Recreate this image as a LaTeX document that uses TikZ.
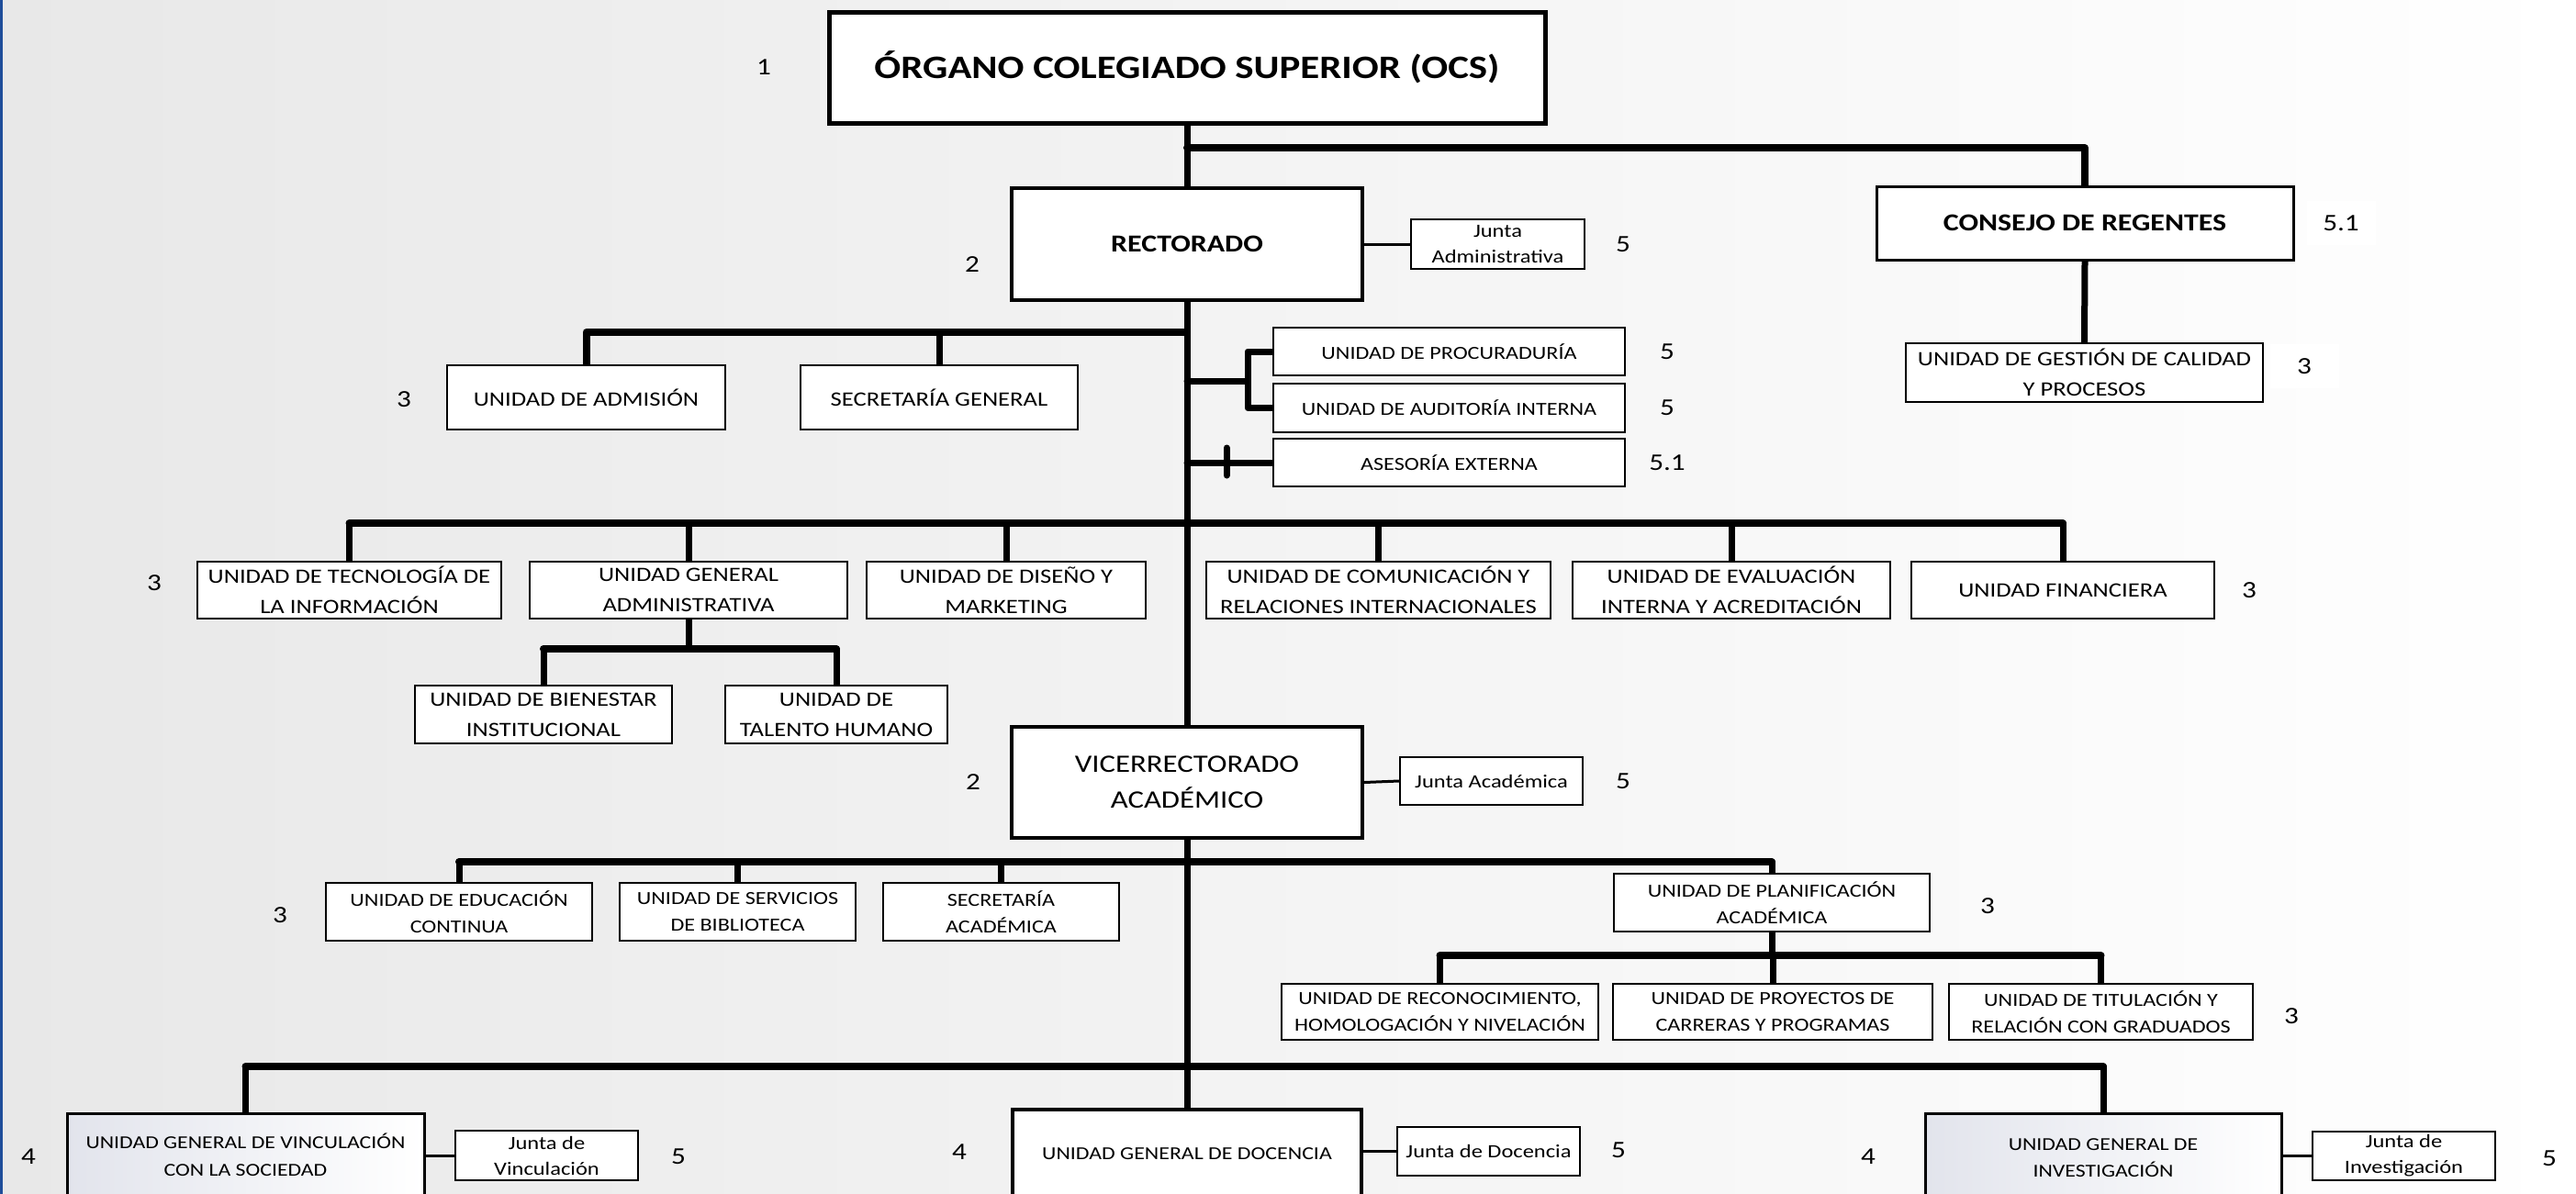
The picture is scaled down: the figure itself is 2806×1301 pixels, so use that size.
\documentclass[tikz,border=0pt]{standalone}
\usepackage{fontspec}
\setmainfont{Carlito}[FakeStretch=1.2]
\pgfdeclarelayer{bgl}
\pgfdeclarelayer{cl}
\pgfsetlayers{bgl,cl,main}
\definecolor{edgeblue}{RGB}{31,78,154}
\definecolor{boxshade}{RGB}{226,228,236}
\newcommand\mkbox[7]{%
  \node[#1, minimum width={#5-#3}, minimum height={#6-#4}] (#2) at ({(#3+#5)/2},{(#4+#6)/2}) {#7};}
\tikzset{
  box/.style={draw, fill=white, line width=2, inner sep=0, align=center, font=\fontsize{22.2}{33}\selectfont},
  boxb/.style={box, font=\fontsize{20.1}{29}\selectfont},
  jbox/.style={box, font=\fontsize{20.4}{28}\selectfont},
  lbl/.style={font=\fontsize{26}{30}\selectfont, inner sep=0},
  conn/.style={line width=7, line cap=round, line join=round},
  bar/.style={line width=8, line cap=round, line join=round},
  thinc/.style={line width=3},
}
\begin{document}
\begin{tikzpicture}[x=1pt,y=-1pt]
\useasboundingbox (0,0) rectangle (2806,1301);
\clip (0,0) rectangle (2806,1301);
\begin{pgfonlayer}{bgl}
  \shade[left color=black!9, right color=white] (0,0) rectangle (2806,1301);
  \fill[edgeblue] (0,0) rectangle (2.5,1301);
\end{pgfonlayer}

% level 1 and 2
\mkbox{box, line width=5, font=\bfseries\fontsize{35.7}{40}\selectfont}{ocs}{903}{13}{1683}{134}{ÓRGANO COLEGIADO SUPERIOR (OCS)}
\mkbox{box, line width=4, font=\bfseries\fontsize{26.6}{32}\selectfont}{rect}{1102}{205}{1484}{327}{RECTORADO}
\mkbox{jbox}{jadm}{1537}{239}{1726}{293}{Junta\\Administrativa}
\mkbox{box, line width=3, font=\bfseries\fontsize{26.6}{32}\selectfont}{cons}{2044}{203}{2498}{283}{CONSEJO DE REGENTES}
\mkbox{box}{gest}{2076}{374}{2465}{438}{UNIDAD DE GESTIÓN DE CALIDAD\\Y PROCESOS}

\mkbox{box}{adm}{487}{398}{790}{468}{UNIDAD DE ADMISIÓN}
\mkbox{box}{secg}{872}{398}{1174}{468}{SECRETARÍA GENERAL}
\mkbox{boxb}{proc}{1387}{357}{1770}{409}{UNIDAD DE PROCURADURÍA}
\mkbox{boxb}{aud}{1387}{418}{1770}{471}{UNIDAD DE AUDITORÍA INTERNA}
\mkbox{boxb}{ases}{1387}{478}{1770}{530}{ASESORÍA EXTERNA}

\mkbox{box}{tec}{215}{612}{546}{674}{UNIDAD DE TECNOLOGÍA DE\\LA INFORMACIÓN}
\mkbox{box}{gadm}{577}{612}{923}{674}{UNIDAD GENERAL\\ADMINISTRATIVA}
\mkbox{box}{dis}{944}{612}{1248}{674}{UNIDAD DE DISEÑO Y\\MARKETING}
\mkbox{box}{com}{1314}{612}{1689}{674}{UNIDAD DE COMUNICACIÓN Y\\RELACIONES INTERNACIONALES}
\mkbox{box}{eva}{1713}{612}{2059}{674}{UNIDAD DE EVALUACIÓN\\INTERNA Y ACREDITACIÓN}
\mkbox{box}{fin}{2082}{612}{2412}{674}{UNIDAD FINANCIERA}
\mkbox{box}{bien}{452}{747}{732}{810}{UNIDAD DE BIENESTAR\\INSTITUCIONAL}
\mkbox{box}{tal}{790}{747}{1032}{810}{UNIDAD DE\\TALENTO HUMANO}

\mkbox{box, line width=4, font=\fontsize{27.3}{39}\selectfont}{vice}{1102}{792}{1484}{913}{VICERRECTORADO\\ACADÉMICO}
\mkbox{jbox}{jacad}{1525}{825}{1724}{877}{Junta Académica}

\mkbox{boxb}{edu}{355}{962}{645}{1025}{UNIDAD DE EDUCACIÓN\\CONTINUA}
\mkbox{boxb}{bib}{675}{962}{932}{1025}{UNIDAD DE SERVICIOS\\DE BIBLIOTECA}
\mkbox{boxb}{seca}{962}{962}{1219}{1025}{SECRETARÍA\\ACADÉMICA}
\mkbox{boxb}{plan}{1758}{952}{2102}{1015}{UNIDAD DE PLANIFICACIÓN\\ACADÉMICA}
\mkbox{boxb}{reco}{1396}{1072}{1741}{1133}{UNIDAD DE RECONOCIMIENTO,\\HOMOLOGACIÓN Y NIVELACIÓN}
\mkbox{boxb}{proy}{1757}{1072}{2105}{1133}{UNIDAD DE PROYECTOS DE\\CARRERAS Y PROGRAMAS}
\mkbox{boxb}{tit}{2123}{1072}{2454}{1133}{UNIDAD DE TITULACIÓN Y\\RELACIÓN CON GRADUADOS}

\mkbox{box, line width=3, left color=boxshade, right color=white, font=\fontsize{19.8}{30}\selectfont}{vin}{73}{1213}{462}{1303}{UNIDAD GENERAL DE VINCULACIÓN\\CON LA SOCIEDAD}
\mkbox{jbox}{jvin}{496}{1232}{695}{1286}{Junta de\\Vinculación}
\mkbox{box, line width=4, font=\fontsize{19.9}{29}\selectfont}{doc}{1103}{1209}{1483}{1305}{UNIDAD GENERAL DE DOCENCIA}
\mkbox{jbox}{jdoc}{1522}{1228}{1721}{1281}{Junta de Docencia}
\mkbox{box, line width=3, left color=boxshade, right color=white, font=\fontsize{19.8}{29}\selectfont}{inv}{2097}{1213}{2485}{1311}{UNIDAD GENERAL DE\\INVESTIGACIÓN}
\mkbox{jbox}{jinv}{2519}{1233}{2718}{1286}{Junta de\\Investigación}

% level numbers
\node[lbl] (n1) at (832,73) {1};
\node[lbl] (n2a) at (1059,288) {2};
\node[lbl] (n5a) at (1768,266) {5};
\node[lbl, fill=white, minimum width=75, minimum height=48] (n51a) at (2550,243) {5.1};
\node[lbl, fill=white, minimum width=75, minimum height=48] (n3g) at (2510,399) {3};
\node[lbl] (n3a) at (440,435) {3};
\node[lbl] (n5p) at (1816,383) {5};
\node[lbl] (n5u) at (1816,444) {5};
\node[lbl] (n51b) at (1816,504) {5.1};
\node[lbl] (n3t) at (168,635) {3};
\node[lbl] (n3f) at (2450,643) {3};
\node[lbl] (n2b) at (1060,852) {2};
\node[lbl] (n5j) at (1768,851) {5};
\node[lbl] (n3e) at (305,997) {3};
\node[lbl] (n3p) at (2165,987) {3};
\node[lbl] (n3r) at (2496,1107) {3};
\node[lbl] (n4v) at (31,1260) {4};
\node[lbl] (n5v) at (739,1260) {5};
\node[lbl] (n4d) at (1045,1255) {4};
\node[lbl] (n5d) at (1763,1253) {5};
\node[lbl] (n4i) at (2035,1260) {4};
\node[lbl] (n5i) at (2777,1262) {5};

% junctions
\coordinate (j1) at (1293,161);
\coordinate (j2) at (1293,362);
\coordinate (j3) at (1293,415);
\coordinate (jp) at (1359,415);
\coordinate (tk1) at (1336,488);
\coordinate (tk2) at (1336,518);
\coordinate (j4) at (1293,570);
\coordinate (j5) at (750,707);
\coordinate (j6) at (1293,939);
\coordinate (j7) at (1930,1041);
\coordinate (j8) at (1293,1162);

\begin{pgfonlayer}{cl}
  \draw[conn] (ocs.south) -- (rect.north);
  \draw[bar] (j1) -| (cons.north);
  \draw[conn] (cons.south) -- (gest.north);
  \draw[thinc] (rect.east) -- (jadm.west);
  \draw[conn] (rect.south) -- (vice.north);
  \draw[bar] (j2) -| (adm.north);
  \draw[conn] (secg.north) -- (secg.north |- j2);
  \draw[conn] (j3) -- (jp);
  \draw[conn] (proc.west) -| (jp) |- (aud.west);
  \draw[conn] (ases.west) -- (ases.west -| j3);
  \draw[conn] (tk1) -- (tk2);
  \draw[bar] (tec.north |- j4) -- (fin.north |- j4);
  \foreach \n in {tec,gadm,dis,com,eva,fin} \draw[conn] (\n.north) -- (\n.north |- j4);
  \draw[conn] (gadm.south) -- (j5);
  \draw[bar] (bien.north |- j5) -- (tal.north |- j5);
  \foreach \n in {bien,tal} \draw[conn] (\n.north) -- (\n.north |- j5);
  \draw[thinc] (vice.east) -- (jacad.west);
  \draw[conn] (vice.south) -- (doc.north);
  \draw[bar] (edu.north |- j6) -- (plan.north |- j6);
  \foreach \n in {edu,bib,seca,plan} \draw[conn] (\n.north) -- (\n.north |- j6);
  \draw[conn] (plan.south) -- (j7);
  \draw[bar] (reco.north |- j7) -- (tit.north |- j7);
  \foreach \n in {reco,proy,tit} \draw[conn] (\n.north) -- (\n.north |- j7);
  \draw[bar] (vin.north |- j8) -- (inv.north |- j8);
  \foreach \n in {vin,inv} \draw[conn] (\n.north) -- (\n.north |- j8);
  \draw[thinc] (jvin.west) -- (jvin.west -| vin.east);
  \draw[thinc] (jdoc.west) -- (jdoc.west -| doc.east);
  \draw[thinc] (jinv.west) -- (jinv.west -| inv.east);
\end{pgfonlayer}
\end{tikzpicture}
\end{document}
